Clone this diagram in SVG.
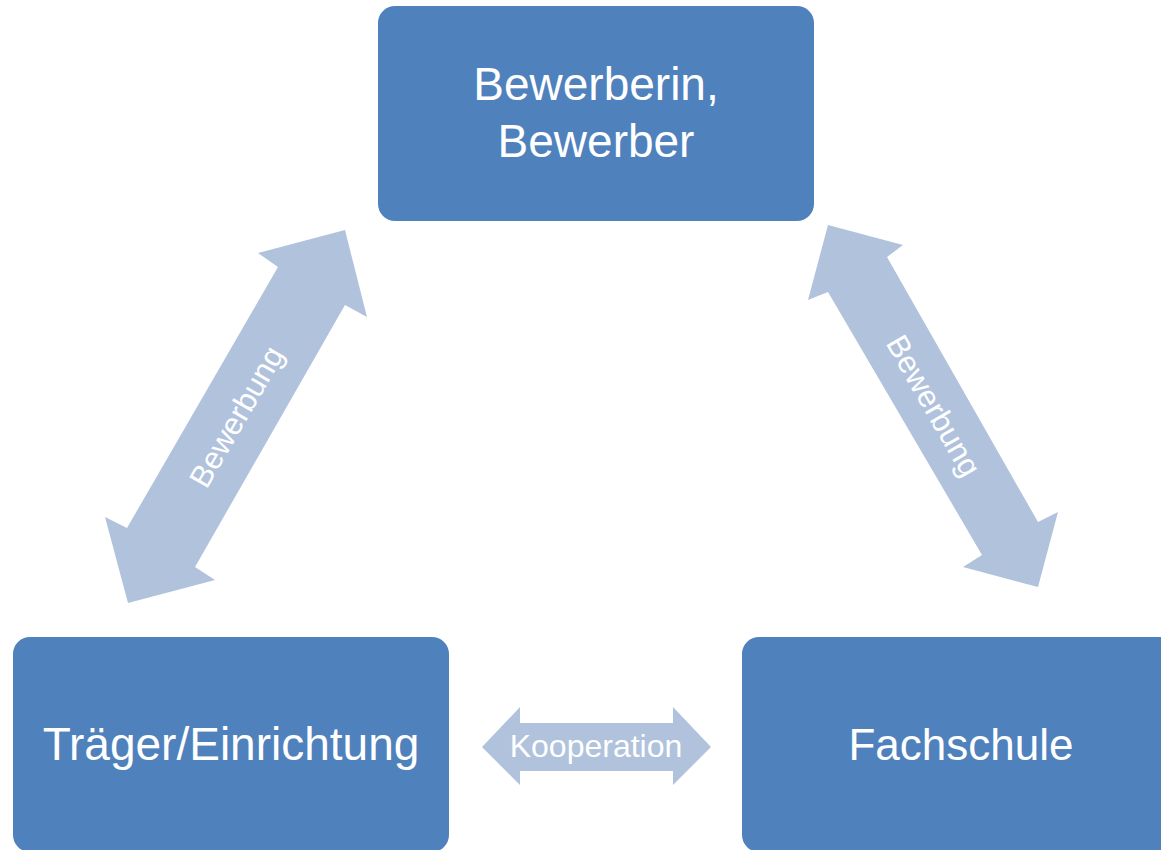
<svg xmlns="http://www.w3.org/2000/svg" width="1161" height="850" viewBox="0 0 1161 850">
<style>
.box{fill:#4F81BD;}
.arr{fill:#B1C2DD;}
.t{font-family:"Liberation Sans",Arial,sans-serif;fill:#FFFFFF;text-anchor:middle;}
.big{font-size:46px;}
.small{font-size:31px;}
</style>
<rect width="1161" height="850" fill="#FFFFFF"/>
<g id="connectors">
<g id="arrow-left">
<polygon class="arr" points="345,230 367,317 345,305 195,567 215,580 128,603 105,517 127,528 278,267 258,253"/>
<text class="t small" transform="translate(237,417) rotate(-60)" y="10">Bewerbung</text>
</g>
<g id="arrow-right">
<polygon class="arr" points="828,225 903,245 887,257 1038,522 1058,512 1038,587 963,567 982,555 828,292 808,300"/>
<text class="t small" transform="translate(933,406) rotate(60)" y="10">Bewerbung</text>
</g>
<g id="arrow-bottom">
<polygon class="arr" points="482,747 520,707 520,723 673,723 673,707 711,747 673,785 673,771 520,771 520,785"/>
<text class="t small" x="596" y="757" style="font-size:32px">Kooperation</text>
</g>
</g>
<g id="node-bewerber">
<rect class="box" x="378" y="6" width="436" height="215" rx="17"/>
<text class="t big" x="596" y="100">Bewerberin,</text>
<text class="t big" x="596" y="157">Bewerber</text>
</g>
<g id="node-traeger">
<rect class="box" x="13" y="637" width="436" height="215" rx="17"/>
<text class="t big" x="231" y="760">Träger/Einrichtung</text>
</g>
<g id="node-fachschule">
<rect class="box" x="742" y="637" width="436" height="215" rx="17"/>
<text class="t big" x="961" y="760" style="font-size:44px">Fachschule</text>
</g>
</svg>
